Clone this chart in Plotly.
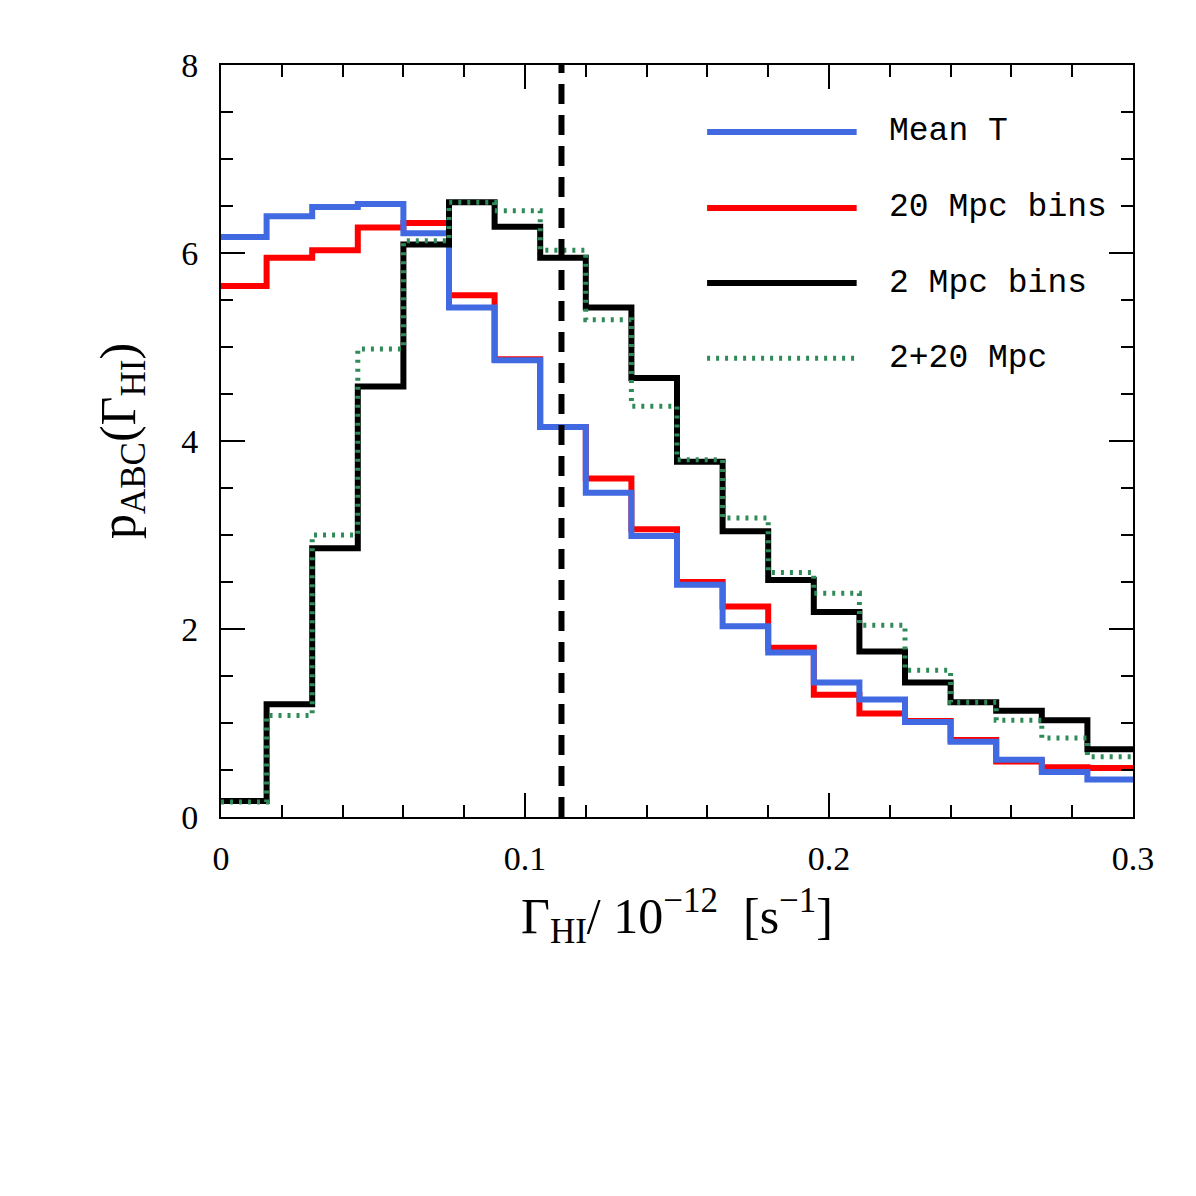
import plotly.graph_objects as go

# Bin edges (Gamma_HI / 1e-12 s^-1)
bin_edges = [0.0, 0.015, 0.03, 0.045, 0.06, 0.075, 0.09, 0.105, 0.12, 0.135,
             0.15, 0.165, 0.18, 0.195, 0.21, 0.225, 0.24, 0.255, 0.27, 0.285, 0.3]

mean_T = [6.17, 6.39, 6.49, 6.52, 6.21, 5.42, 4.86, 4.15, 3.45, 2.99,
          2.47, 2.03, 1.75, 1.43, 1.25, 1.01, 0.80, 0.61, 0.48, 0.40]
mpc20 = [5.65, 5.95, 6.03, 6.27, 6.32, 5.55, 4.87, 4.15, 3.60, 3.06,
         2.50, 2.24, 1.80, 1.30, 1.10, 1.02, 0.82, 0.59, 0.53, 0.52]
mpc2 = [0.17, 1.20, 2.86, 4.58, 6.09, 6.54, 6.28, 5.95, 5.42, 4.67,
        3.78, 3.04, 2.52, 2.18, 1.76, 1.43, 1.22, 1.13, 1.03, 0.72]
mpc2_20 = [0.16, 1.08, 3.00, 4.98, 6.13, 6.54, 6.45, 6.03, 5.29, 4.37,
           3.80, 3.18, 2.60, 2.38, 2.04, 1.56, 1.22, 1.03, 0.84, 0.64]

true_gamma = 0.112

series_names = ["Mean T", "20 Mpc bins", "2 Mpc bins", "2+20 Mpc"]

def step_xy(vals):
    xs = list(bin_edges)
    ys = list(vals) + [vals[-1]]
    return xs, ys

fig = go.Figure()

styles = {
    "20 Mpc bins": dict(color="#ff0000", width=6, dash="solid"),
    "Mean T": dict(color="#4169e1", width=6, dash="solid"),
    "2 Mpc bins": dict(color="#000000", width=6, dash="solid"),
    "2+20 Mpc": dict(color="#2e8b57", width=5, dash="3px,6px"),
}
data_map = {"Mean T": mean_T, "20 Mpc bins": mpc20, "2 Mpc bins": mpc2, "2+20 Mpc": mpc2_20}

for name in ["20 Mpc bins", "Mean T", "2 Mpc bins", "2+20 Mpc"]:
    xs, ys = step_xy(data_map[name])
    fig.add_trace(go.Scatter(x=xs, y=ys, mode="lines", line_shape="hv",
                             line=styles[name], name=name, showlegend=False,
                             cliponaxis=True))

# vertical dashed line at true value
fig.add_trace(go.Scatter(x=[true_gamma, true_gamma], y=[0, 8], mode="lines",
                         line=dict(color="black", width=6, dash="20px,11px"),
                         showlegend=False))

# manual legend
leg_y = [0.911, 0.810, 0.710, 0.610]
for name, yy in zip(series_names, leg_y):
    st = styles[name]
    fig.add_shape(type="line", xref="paper", yref="paper",
                  x0=0.533, x1=0.697, y0=yy, y1=yy,
                  line=dict(color=st["color"], width=st["width"], dash=st["dash"]))
    fig.add_annotation(xref="paper", yref="paper", x=0.73, y=yy, text=name,
                       showarrow=False, xanchor="left", yanchor="middle",
                       font=dict(family="Liberation Mono", size=33, color="black"))

axis_common = dict(showline=True, linecolor="black", linewidth=2, mirror="ticks",
                   ticks="inside", tickcolor="black", tickwidth=2, ticklen=24,
                   showgrid=False, zeroline=False,
                   tickfont=dict(family="Liberation Serif", size=34, color="black"))

fig.update_xaxes(range=[0, 0.3], tickvals=[0, 0.1, 0.2, 0.3],
                 ticktext=["0", "0.1", "0.2", "0.3"],
                 ticklabelstandoff=10,
                 minor=dict(dtick=0.02, ticks="inside", ticklen=12, tickwidth=2,
                            tickcolor="black", showgrid=False),
                 title=dict(text="Γ<sub>HI</sub>/ 10<sup>−12</sup>  [s<sup>−1</sup>]",
                            font=dict(family="Liberation Serif", size=50, color="black"),
                            standoff=22),
                 **axis_common)
fig.update_yaxes(range=[0, 8], tickvals=[0, 2, 4, 6, 8],
                 ticklabelstandoff=14,
                 minor=dict(dtick=0.5, ticks="inside", ticklen=12, tickwidth=2,
                            tickcolor="black", showgrid=False),
                 title=dict(text="p<sub>ABC</sub>(Γ<sub>HI</sub>)",
                            font=dict(family="Liberation Serif", size=50, color="black"),
                            standoff=30),
                 **axis_common)

fig.update_layout(width=1196, height=1196,
                  margin=dict(l=221, r=63, t=65, b=379),
                  paper_bgcolor="white", plot_bgcolor="white")

fig.write_html("out.html")
